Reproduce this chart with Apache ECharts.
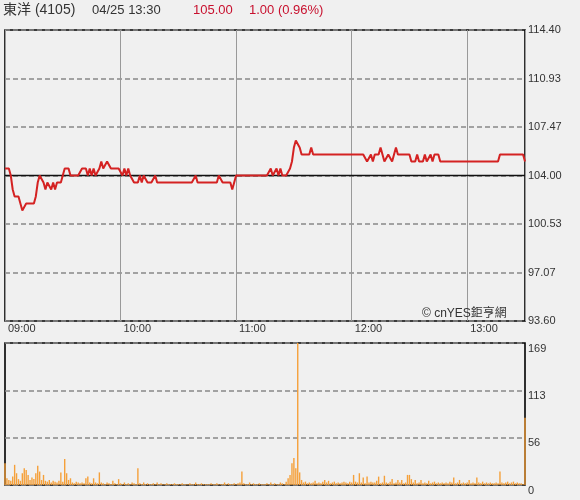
<!DOCTYPE html>
<html>
<head>
<meta charset="utf-8">
<script src="https://cdn.jsdelivr.net/npm/echarts@6/dist/echarts.min.js"></script>
<style>
  html, body { margin: 0; padding: 0; background: #f0f0f0; }
  #chart { width: 580px; height: 500px; }
</style>
</head>
<body>
<div id="chart"></div>
<script>
  // 東洋 (4105) 04/25 分時走勢, 09:00 ~ 13:30 每分鐘一筆
  const timeLabels = ['09:00', '10:00', '11:00', '12:00', '13:00']
  const prevClose = 104
  const priceMin = 93.6
  const priceMax = 114.4
  const volMax = 169

  const prices = [
    104.5, 104.5, 104.5, 104, 103, 102.5, 102.5, 102.5, 102, 101.5,
    101.5, 102, 102, 102, 102, 102, 102.5, 103.5, 104, 104,
    103.5, 103, 103.5, 103.5, 103, 103.5, 103, 103.5, 103.5, 103.5,
    104, 104.5, 104.5, 104.5, 104, 104, 104, 104, 104, 104,
    104.5, 104.5, 104.5, 104, 104.5, 104, 104.5, 104, 104, 104.5,
    105, 104.5, 104.5, 105, 105, 104.5, 104.5, 104.5, 104.5, 104.5,
    104.5, 104, 104.5, 104, 104.5, 104, 104, 103.5, 103.5, 103.5,
    104, 103.5, 104, 104, 103.5, 103.5, 103.5, 103.5, 104, 103.5,
    103.5, 103.5, 103.5, 103.5, 103.5, 103.5, 103.5, 103.5, 103.5, 103.5,
    103.5, 103.5, 103.5, 103.5, 103.5, 103.5, 103.5, 103.5, 103.5, 104,
    103.5, 103.5, 103.5, 103.5, 103.5, 103.5, 103.5, 103.5, 103.5, 103.5,
    103.5, 104, 104, 103.5, 103.5, 103.5, 103.5, 103.5, 103, 103,
    104, 104, 104, 104, 104, 104, 104, 104, 104, 104,
    104, 104, 104, 104, 104, 104, 104, 104, 104.5, 104,
    104, 104.5, 104, 104.5, 104, 104, 104, 104, 104.5, 105,
    106, 106.5, 106.5, 106, 105.5, 105.5, 105.5, 105.5, 105.5, 106,
    105.5, 105.5, 105.5, 105.5, 105.5, 105.5, 105.5, 105.5, 105.5, 105.5,
    105.5, 105.5, 105.5, 105.5, 105.5, 105.5, 105.5, 105.5, 105.5, 105.5,
    105.5, 105.5, 105.5, 105.5, 105.5, 105.5, 105.5, 105.5, 105, 105,
    105.5, 105, 105.5, 105.5, 105.5, 106, 105.5, 105, 105, 105.5,
    105.5, 105, 105.5, 106, 105.5, 105.5, 105.5, 105.5, 105.5, 105.5,
    105.5, 105, 105, 105, 105.5, 105, 105, 105, 105.5, 105,
    105, 105.5, 105, 105.5, 105.5, 105.5, 105, 105, 105, 105,
    105, 105, 105, 105, 105, 105, 105, 105, 105, 105,
    105, 105, 105, 105, 105, 105, 105, 105, 105, 105,
    105, 105, 105, 105, 105, 105, 105, 105.5, 105.5, 105.5,
    105.5, 105.5, 105.5, 105.5, 105.5, 105.5, 105.5, 105.5, 105.5, 105.5,
    105
  ]

  const volumes = [
    26, 8, 6, 5, 10, 24, 14, 7, 5, 14, 20, 18, 12, 6, 9, 7, 14, 23, 16, 6, 12, 5, 4, 6, 3, 5, 4, 3, 5, 15,
    4, 31, 14, 6, 8, 3, 2, 4, 3, 2, 3, 2, 8, 10, 3, 2, 8, 3, 2, 15, 3, 2, 1, 3, 2, 1, 5, 2, 1, 7,
    2, 1, 3, 1, 2, 1, 3, 2, 1, 20, 2, 1, 3, 1, 2, 1, 1, 2, 1, 3, 1, 2, 1, 1, 2, 1, 1, 1, 2, 1,
    1, 1, 2, 1, 1, 1, 2, 1, 1, 3, 1, 1, 2, 1, 1, 1, 1, 2, 1, 1, 2, 1, 1, 1, 3, 1, 2, 1, 1, 2,
    1, 2, 3, 16, 2, 1, 1, 3, 1, 2, 1, 1, 2, 1, 1, 1, 2, 1, 3, 1, 2, 1, 1, 3, 2, 1, 4, 8, 12, 26,
    32, 20, 169, 15, 6, 3, 4, 2, 3, 2, 3, 5, 2, 3, 2, 4, 6, 3, 5, 2, 3, 4, 2, 3, 2, 3, 4, 3, 2, 4,
    3, 12, 4, 3, 14, 3, 9, 2, 10, 3, 4, 3, 3, 5, 10, 2, 3, 11, 3, 2, 4, 7, 2, 3, 6, 3, 6, 2, 3, 12,
    12, 7, 3, 6, 2, 3, 6, 2, 3, 2, 5, 2, 3, 4, 2, 3, 2, 3, 2, 3, 2, 4, 3, 9, 2, 3, 6, 2, 3, 2,
    3, 6, 2, 3, 2, 9, 3, 2, 4, 2, 3, 2, 3, 2, 2, 3, 2, 16, 3, 2, 3, 4, 2, 3, 4, 2, 3, 2, 2, 1, 80
  ]

  const font = '"Liberation Sans", Arial, "Noto Sans CJK TC", sans-serif'
  const lastIdx = prices.length - 1

  var chart = echarts.init(document.getElementById('chart'))

  var priceData = []
  for (var i = 0; i < prices.length; i++) {
    priceData.push([i, prices[i] - priceMin])
  }
  var volData = []
  for (var j = 0; j < volumes.length; j++) {
    volData.push([j, volumes[j]])
  }

  chart.setOption({
    backgroundColor: '#f0f0f0',
    animation: false,
    textStyle: { fontFamily: font },
    graphic: [
      { type: 'text', style: { x: 3, y: 10, text: '東洋 (4105)', fill: '#333', font: '14px ' + font, verticalAlign: 'middle' } },
      { type: 'text', style: { x: 92, y: 10, text: '04/25 13:30', fill: '#333', font: '13px ' + font, verticalAlign: 'middle' } },
      { type: 'text', style: { x: 193, y: 10, text: '105.00', fill: '#c8102e', font: '13px ' + font, verticalAlign: 'middle' } },
      { type: 'text', style: { x: 249, y: 10, text: '1.00 (0.96%)', fill: '#c8102e', font: '13px ' + font, verticalAlign: 'middle' } },
      { type: 'text', z: 100, style: { x: 422, y: 314, text: '© cnYES鉅亨網', fill: '#333', font: '12px ' + font, verticalAlign: 'middle' } }
    ],
    grid: [
      { left: 5, right: 55, top: 30, bottom: 179, show: true, borderColor: '#000', borderWidth: 1.6, backgroundColor: 'transparent' },
      { left: 5, right: 55, top: 343, bottom: 15, show: true, borderColor: '#000', borderWidth: 1.6, backgroundColor: 'transparent' }
    ],
    xAxis: [
      {
        gridIndex: 0,
        type: 'value',
        min: 0,
        max: lastIdx,
        interval: 60,
        axisLine: { show: false },
        axisTick: { show: false },
        splitLine: { show: true, lineStyle: { color: '#999', width: 1 } },
        axisLabel: {
          show: true,
          align: 'left',
          verticalAlign: 'top',
          margin: 2,
          padding: [0, 0, 0, 3],
          color: '#333',
          fontSize: 11,
          showMaxLabel: false,
          formatter: function (v) { return timeLabels[v / 60] || '' }
        }
      },
      {
        gridIndex: 1,
        type: 'value',
        min: 0,
        max: lastIdx,
        axisLine: { show: false },
        axisTick: { show: false },
        splitLine: { show: false },
        axisLabel: { show: false }
      }
    ],
    yAxis: [
      {
        gridIndex: 0,
        type: 'value',
        position: 'right',
        min: 0,
        max: priceMax - priceMin,
        interval: (priceMax - priceMin) / 6,
        axisLine: { show: false },
        axisTick: { show: false },
        splitLine: { show: true, lineStyle: { color: '#888', width: 1.5, type: [5, 3] } },
        axisLabel: {
          margin: 3,
          color: '#333',
          fontSize: 11,
          verticalAlign: 'middle',
          padding: [0, 0, 6, 0],
          formatter: function (v) { return (v + priceMin).toFixed(2) }
        }
      },
      {
        gridIndex: 1,
        type: 'value',
        position: 'right',
        min: 0,
        max: volMax,
        interval: volMax / 3,
        axisLine: { show: false },
        axisTick: { show: false },
        splitLine: { show: true, lineStyle: { color: '#888', width: 1.5, type: [5, 3] } },
        axisLabel: {
          margin: 3,
          color: '#333',
          fontSize: 11,
          verticalAlign: 'top',
          formatter: function (v) { return Math.round(v) }
        }
      }
    ],
    series: [
      {
        // 平盤線
        type: 'line',
        xAxisIndex: 0,
        yAxisIndex: 0,
        silent: true,
        symbol: 'none',
        lineStyle: { color: '#111', width: 1.5 },
        data: [[0, prevClose - priceMin], [lastIdx, prevClose - priceMin]]
      },
      {
        name: '成交價',
        type: 'line',
        xAxisIndex: 0,
        yAxisIndex: 0,
        symbol: 'none',
        lineStyle: { color: '#d42222', width: 2 },
        data: priceData
      },
      {
        name: '成交量',
        type: 'bar',
        xAxisIndex: 1,
        yAxisIndex: 1,
        barWidth: 1.4,
        itemStyle: { color: '#f5a03a' },
        data: volData
      }
    ]
  })
</script>
</body>
</html>
